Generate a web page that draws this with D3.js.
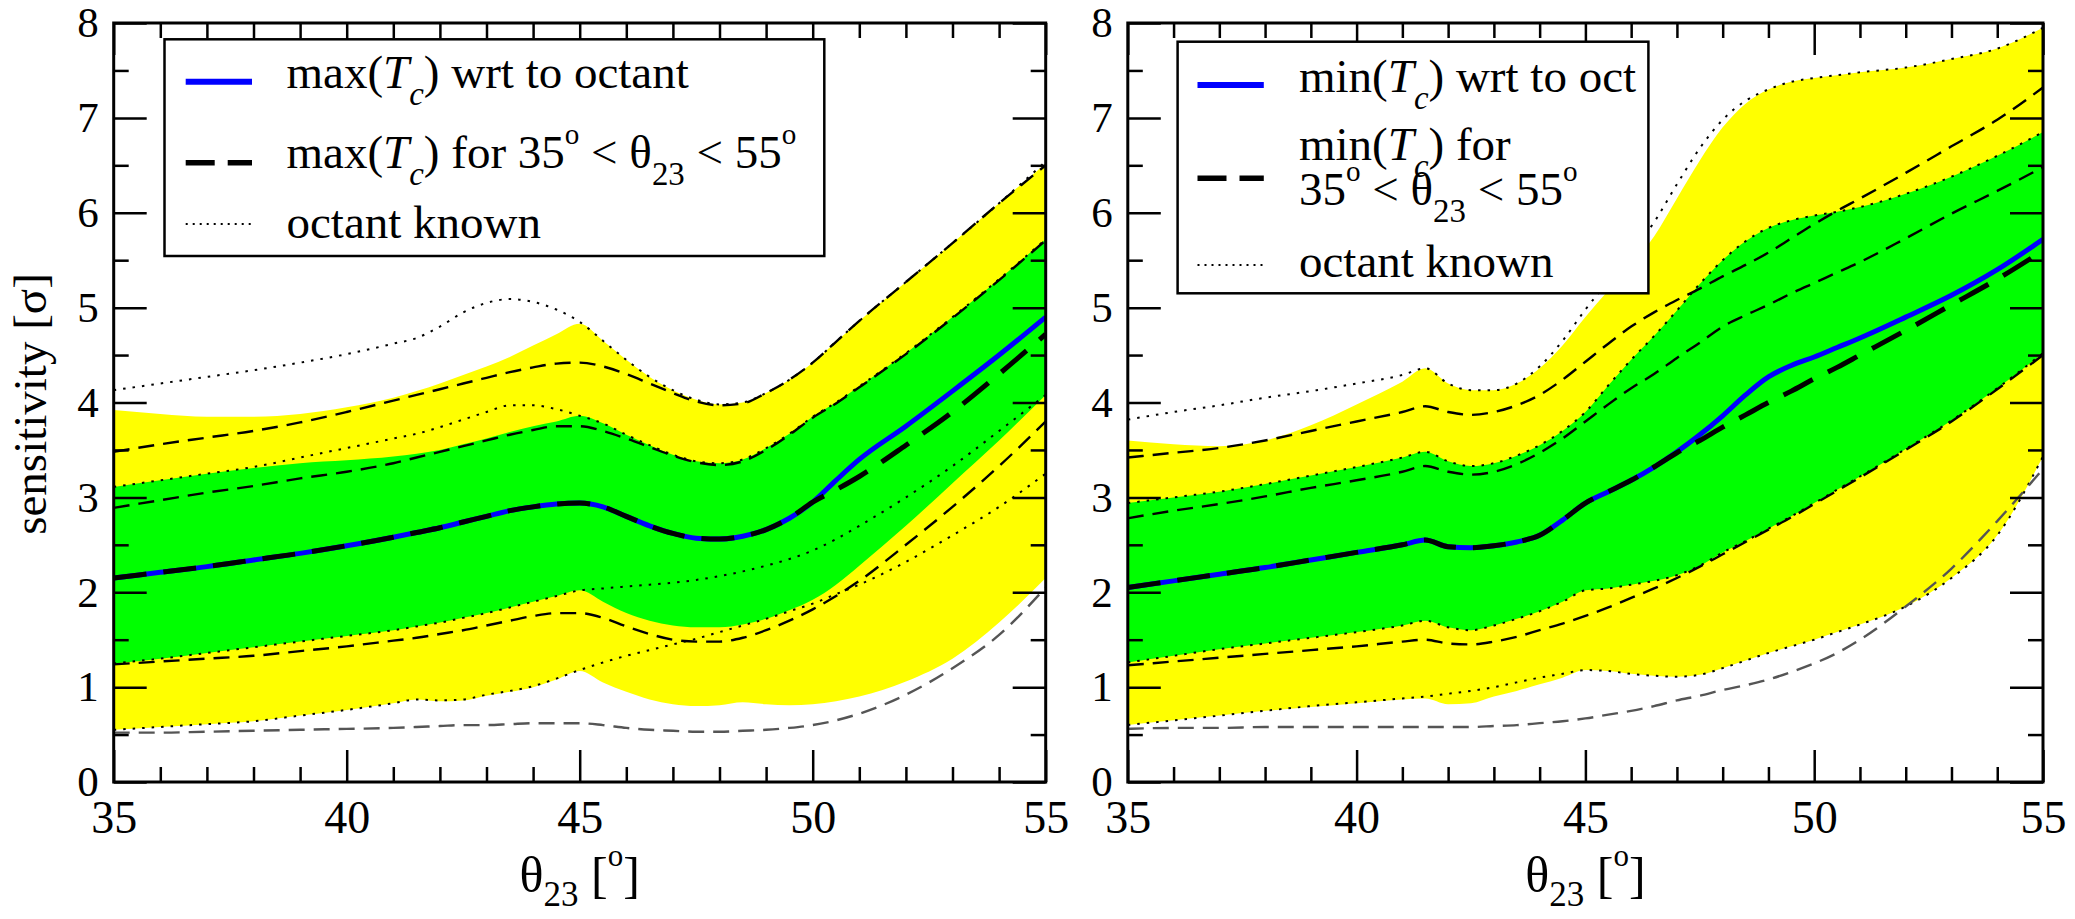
<!DOCTYPE html>
<html>
<head>
<meta charset="utf-8">
<script src="https://cdn.jsdelivr.net/npm/d3@7"></script>
<style>
  html, body { margin: 0; padding: 0; background: #fff; }
  svg { display: block; }
  text { font-family: "Liberation Serif", "DejaVu Serif", "Times New Roman", serif; fill: #000; white-space: pre; }
</style>
</head>
<body>
<svg id="chart" width="2075" height="919" font-family="Liberation Serif, DejaVu Serif, serif"></svg>
<script>
// ---- shared grid (theta_23 in degrees) ----
const theta = [35,36,37,38,39,40,41,41.5,42,42.5,43,43.5,44,44.5,45,45.5,46,46.5,47,47.5,48,48.5,49,49.5,50,50.5,51,52,53,54,55];
const xMajorTicks = [35, 40, 45, 50, 55];
const xMinorTicks = [36,37,38,39,41,42,43,44,46,47,48,49,51,52,53,54];
const yMajorTicks = [0,1,2,3,4,5,6,7,8];
const yMinorTicks = [0.5,1.5,2.5,3.5,4.5,5.5,6.5,7.5];

// ---- max(Tc) with respect to octant ----
const maxBand2Hi = [3.92,3.88,3.85,3.85,3.88,3.95,4.05,4.12,4.2,4.29,4.38,4.48,4.6,4.72,4.83,4.65,4.45,4.27,4.13,4.03,3.98,4.0,4.1,4.24,4.42,4.64,4.86,5.27,5.68,6.1,6.52];
const maxBand1Hi = [3.11,3.18,3.25,3.31,3.36,3.39,3.43,3.46,3.5,3.56,3.62,3.69,3.75,3.8,3.86,3.78,3.66,3.55,3.45,3.38,3.36,3.4,3.52,3.67,3.85,4.0,4.17,4.52,4.9,5.3,5.72];
const maxBand1Lo = [1.25,1.3,1.36,1.42,1.48,1.54,1.6,1.64,1.68,1.73,1.78,1.84,1.9,1.96,2.02,1.9,1.78,1.7,1.65,1.63,1.63,1.66,1.72,1.81,1.92,2.08,2.28,2.7,3.15,3.6,4.08];
const maxBand2Lo = [0.55,0.58,0.61,0.64,0.7,0.76,0.83,0.87,0.85,0.86,0.91,0.95,1.0,1.08,1.17,1.05,0.95,0.87,0.82,0.8,0.81,0.84,0.82,0.81,0.82,0.85,0.9,1.06,1.3,1.68,2.15];
const maxCentral = [2.15,2.21,2.27,2.34,2.41,2.49,2.58,2.63,2.68,2.74,2.8,2.86,2.9,2.93,2.94,2.9,2.8,2.7,2.62,2.57,2.56,2.59,2.66,2.78,2.95,3.18,3.4,3.75,4.12,4.5,4.9];
const maxRange = [2.15,2.21,2.27,2.34,2.41,2.49,2.58,2.63,2.68,2.74,2.8,2.86,2.9,2.93,2.94,2.9,2.8,2.7,2.62,2.57,2.56,2.59,2.66,2.78,2.95,3.08,3.22,3.55,3.9,4.3,4.72];
const maxRangeHi2 = [3.48,3.56,3.63,3.7,3.79,3.9,4.02,4.08,4.14,4.2,4.26,4.32,4.37,4.41,4.42,4.38,4.3,4.2,4.1,4.01,3.97,3.99,4.1,4.24,4.42,4.64,4.86,5.27,5.68,6.1,6.5];
const maxRangeHi1 = [2.89,2.97,3.05,3.12,3.2,3.27,3.36,3.42,3.48,3.54,3.6,3.66,3.71,3.75,3.75,3.7,3.62,3.53,3.44,3.37,3.34,3.38,3.5,3.66,3.84,3.99,4.16,4.51,4.89,5.29,5.71];
const maxRangeLo1 = [1.24,1.27,1.3,1.33,1.38,1.43,1.49,1.52,1.56,1.6,1.65,1.7,1.75,1.78,1.78,1.73,1.64,1.56,1.5,1.48,1.48,1.52,1.6,1.7,1.82,1.96,2.12,2.5,2.9,3.33,3.8];
const maxRangeLo2 = [0.52,0.52,0.53,0.54,0.55,0.56,0.57,0.58,0.59,0.6,0.6,0.61,0.62,0.62,0.62,0.6,0.57,0.55,0.54,0.53,0.53,0.54,0.55,0.57,0.6,0.65,0.72,0.92,1.2,1.55,2.05];
const maxKnownHi2 = [4.13,4.2,4.27,4.34,4.42,4.51,4.62,4.68,4.8,4.95,5.05,5.09,5.06,4.98,4.85,4.65,4.45,4.27,4.13,4.03,3.98,4.0,4.1,4.24,4.42,4.64,4.86,5.27,5.68,6.1,6.54];
const maxKnownHi1 = [3.11,3.18,3.25,3.32,3.42,3.52,3.62,3.67,3.74,3.82,3.9,3.97,3.97,3.93,3.86,3.78,3.66,3.55,3.45,3.38,3.36,3.4,3.52,3.67,3.85,4.0,4.17,4.52,4.9,5.3,5.72];
const maxKnownLo1 = [1.25,1.3,1.36,1.42,1.48,1.54,1.6,1.64,1.68,1.73,1.78,1.84,1.9,1.96,2.02,2.04,2.06,2.08,2.1,2.13,2.17,2.22,2.28,2.35,2.44,2.56,2.7,3.0,3.33,3.7,4.08];
const maxKnownLo2 = [0.55,0.58,0.61,0.64,0.7,0.76,0.83,0.87,0.86,0.87,0.92,0.96,1.01,1.09,1.18,1.26,1.33,1.39,1.45,1.51,1.58,1.65,1.72,1.8,1.88,1.98,2.08,2.32,2.6,2.9,3.25];

// ---- min(Tc) with respect to octant ----
const minBand2Hi = [3.6,3.56,3.54,3.6,3.76,3.98,4.22,4.36,4.2,4.13,4.13,4.2,4.36,4.6,4.9,5.18,5.45,5.75,6.15,6.55,6.9,7.15,7.3,7.38,7.42,7.45,7.48,7.53,7.62,7.73,7.95];
const minBand1Hi = [2.94,3.0,3.06,3.14,3.23,3.32,3.42,3.48,3.38,3.33,3.36,3.44,3.55,3.7,3.9,4.18,4.45,4.7,4.97,5.25,5.5,5.7,5.84,5.92,5.97,6.01,6.06,6.2,6.38,6.6,6.85];
const minBand1Lo = [1.26,1.33,1.4,1.46,1.52,1.58,1.65,1.7,1.63,1.6,1.65,1.72,1.8,1.9,2.02,2.04,2.08,2.12,2.18,2.28,2.42,2.54,2.67,2.8,2.94,3.08,3.22,3.51,3.81,4.15,4.52];
const minBand2Lo = [0.6,0.65,0.7,0.75,0.79,0.83,0.87,0.88,0.82,0.83,0.9,0.96,1.03,1.1,1.18,1.17,1.14,1.12,1.11,1.13,1.2,1.28,1.36,1.43,1.5,1.58,1.66,1.85,2.15,2.6,3.43];
const minCentral = [2.05,2.12,2.19,2.26,2.34,2.42,2.5,2.55,2.48,2.47,2.49,2.53,2.6,2.76,2.94,3.06,3.18,3.32,3.48,3.66,3.86,4.08,4.27,4.39,4.48,4.58,4.68,4.9,5.13,5.4,5.72];
const minRange = [2.05,2.12,2.19,2.26,2.34,2.42,2.5,2.55,2.48,2.47,2.49,2.53,2.6,2.76,2.94,3.06,3.18,3.32,3.47,3.6,3.74,3.87,4.0,4.12,4.25,4.37,4.5,4.76,5.03,5.3,5.6];
const minRangeHi2 = [3.42,3.47,3.52,3.6,3.7,3.8,3.9,3.96,3.9,3.87,3.9,3.97,4.08,4.24,4.43,4.62,4.8,4.95,5.08,5.2,5.33,5.45,5.58,5.73,5.88,6.02,6.15,6.42,6.7,6.98,7.32];
const minRangeHi1 = [2.78,2.86,2.93,3.01,3.1,3.18,3.27,3.33,3.27,3.24,3.27,3.35,3.47,3.62,3.8,3.98,4.15,4.3,4.47,4.63,4.8,4.92,5.03,5.15,5.26,5.37,5.48,5.73,5.99,6.23,6.48];
const minRangeLo1 = [1.23,1.27,1.31,1.35,1.39,1.43,1.48,1.5,1.46,1.45,1.48,1.53,1.6,1.67,1.75,1.84,1.94,2.04,2.15,2.27,2.4,2.53,2.66,2.79,2.93,3.07,3.21,3.5,3.8,4.14,4.5];
const minRangeLo2 = [0.56,0.57,0.57,0.58,0.58,0.58,0.58,0.58,0.58,0.58,0.59,0.6,0.62,0.64,0.67,0.71,0.75,0.8,0.86,0.91,0.97,1.02,1.08,1.16,1.25,1.36,1.5,1.85,2.25,2.75,3.3];
const minKnownHi2 = [3.82,3.9,3.97,4.05,4.12,4.2,4.29,4.36,4.2,4.13,4.13,4.2,4.38,4.65,4.98,5.28,5.58,5.9,6.3,6.68,6.98,7.18,7.3,7.38,7.42,7.45,7.48,7.53,7.62,7.73,7.95];
const minKnownHi1 = [2.94,3.0,3.06,3.14,3.23,3.32,3.42,3.48,3.38,3.33,3.36,3.44,3.55,3.7,3.9,4.18,4.45,4.7,4.97,5.25,5.5,5.7,5.84,5.92,5.97,6.01,6.06,6.2,6.38,6.6,6.85];
const minKnownLo1 = [1.26,1.33,1.4,1.46,1.52,1.58,1.65,1.7,1.63,1.6,1.65,1.72,1.8,1.9,2.02,2.04,2.08,2.12,2.18,2.28,2.42,2.54,2.67,2.8,2.94,3.08,3.22,3.51,3.81,4.15,4.52];
const minKnownLo2 = [0.6,0.65,0.7,0.75,0.8,0.84,0.88,0.9,0.93,0.96,1.0,1.05,1.1,1.14,1.18,1.17,1.14,1.12,1.11,1.13,1.2,1.28,1.36,1.43,1.5,1.58,1.66,1.85,2.15,2.6,3.43];

// ---- legend labels (segments: text, style) ----
const maxLegend = [
  [["max("], ["T", "it"], ["c", "itsub"], [") wrt to octant"]],
  [["max("], ["T", "it"], ["c", "itsub"], [") for 35"], ["o", "sup"], [" < θ"], ["23", "sub"], [" < 55"], ["o", "sup"]],
  [["octant known"]]
];
const minLegend = [
  [["min("], ["T", "it"], ["c", "itsub"], [") wrt to oct"]],
  [["min("], ["T", "it"], ["c", "itsub"], [") for"]],
  [["35"], ["o", "sup"], [" < θ"], ["23", "sub"], [" < 55"], ["o", "sup"]],
  [["octant known"]]
];
const xTitle = [["θ"], ["23", "sub"], [" ["], ["o", "sup"], ["]"]];
const yTitle = "sensitivity [σ]";

// ---- layout ----
const svg = d3.select("#chart");
svg.append("rect").attr("width", 2075).attr("height", 919).attr("fill", "#fff");

const SERIF = "Liberation Serif, DejaVu Serif, serif";
const TOP = 23, BOTTOM = 782;
const panels = [
  {
    id: "max", left: 113.7, right: 1045.7,
    band2: [maxBand2Lo, maxBand2Hi], band1: [maxBand1Lo, maxBand1Hi],
    known: [maxKnownHi2, maxKnownHi1, maxKnownLo1, maxKnownLo2],
    range: [maxRangeHi2, maxRangeHi1, maxRangeLo1],
    rangeLow: maxRangeLo2,
    central: maxCentral, rangeCentral: maxRange,
    legend: {
      box: [164.5, 39.3, 659.8, 216.7], sx: [185.7, 252], tx: 286.5,
      rows: [
        { kind: "solid", sy: 81.7, lines: [[maxLegend[0], 88.3]] },
        { kind: "dash", sy: 162.7, lines: [[maxLegend[1], 168.3]] },
        { kind: "dot", sy: 224, lines: [[maxLegend[2], 238.3]] }
      ]
    }
  },
  {
    id: "min", left: 1127.8, right: 2043,
    band2: [minBand2Lo, minBand2Hi], band1: [minBand1Lo, minBand1Hi],
    known: [minKnownHi2, minKnownHi1, minKnownLo1, minKnownLo2],
    range: [minRangeHi2, minRangeHi1, minRangeLo1],
    rangeLow: minRangeLo2,
    central: minCentral, rangeCentral: minRange,
    legend: {
      box: [1177.6, 41.7, 470.8, 251.6], sx: [1197.5, 1263.8], tx: 1299,
      rows: [
        { kind: "solid", sy: 85, lines: [[minLegend[0], 91.7]] },
        { kind: "dash", sy: 178.3, lines: [[minLegend[1], 160], [minLegend[2], 205]] },
        { kind: "dot", sy: 265, lines: [[minLegend[3], 276.7]] }
      ]
    }
  }
];

const STYLE = {
  yellow: "#ffff00", green: "#00ff00", blue: "#0000ff",
  dot: { w: 2, dash: "2.5,7" },
  thin: { w: 2.4, dash: "16,9" },
  thick: { w: 5, dash: "33,17" }
};

// rich text made of plain / italic / sub / superscript pieces
function richText(parent, x, y, segs, size, anchor, subShift) {
  const t = parent.append("text").attr("x", x).attr("y", y)
    .attr("font-size", size).attr("font-family", SERIF)
    .attr("text-anchor", anchor || "start");
  let shift = 0;
  segs.forEach(([s, kind]) => {
    let target = 0, fs = size, italic = false;
    if (kind === "it") italic = true;
    if (kind === "sub" || kind === "itsub") { target = (subShift || 0.36) * size; fs = 0.7 * size; italic = kind === "itsub"; }
    if (kind === "sup") { target = -0.52 * size; fs = 0.62 * size; }
    const ts = t.append("tspan").attr("dy", target - shift).attr("font-size", fs).text(s);
    if (italic) ts.attr("font-style", "italic");
    shift = target;
  });
  return t;
}

function drawPanel(p) {
  const x = d3.scaleLinear().domain([35, 55]).range([p.left, p.right]);
  const y = d3.scaleLinear().domain([0, 8]).range([BOTTOM, TOP]);
  const g = svg.append("g");

  const clipId = "clip-" + p.id;
  svg.append("clipPath").attr("id", clipId).append("rect")
    .attr("x", p.left).attr("y", TOP).attr("width", p.right - p.left).attr("height", BOTTOM - TOP);
  const plot = g.append("g").attr("clip-path", `url(#${clipId})`);

  const area = (lo, hi) => d3.area()
    .x((d, i) => x(theta[i])).y0((d, i) => y(lo[i])).y1((d, i) => y(hi[i]))
    .curve(d3.curveMonotoneX);
  const line = vals => d3.line()
    .x((d, i) => x(theta[i])).y((d, i) => y(vals[i]))
    .curve(d3.curveMonotoneX);

  plot.append("path").datum(theta).attr("d", area(p.band2[0], p.band2[1])).attr("fill", STYLE.yellow);
  plot.append("path").datum(theta).attr("d", area(p.band1[0], p.band1[1])).attr("fill", STYLE.green);

  // octant known (dotted)
  p.known.forEach(vals => {
    plot.append("path").datum(theta).attr("d", line(vals)).attr("fill", "none")
      .attr("stroke", "#000").attr("stroke-width", STYLE.dot.w).attr("stroke-dasharray", STYLE.dot.dash);
  });
  // 35° < θ23 < 55° bands (thin dashed)
  p.range.forEach(vals => {
    plot.append("path").datum(theta).attr("d", line(vals)).attr("fill", "none")
      .attr("stroke", "#000").attr("stroke-width", STYLE.thin.w).attr("stroke-dasharray", STYLE.thin.dash);
  });
  plot.append("path").datum(theta).attr("d", line(p.rangeLow)).attr("fill", "none")
    .attr("stroke", "#555").attr("stroke-width", STYLE.thin.w).attr("stroke-dasharray", STYLE.thin.dash);

  // central curves
  plot.append("path").datum(theta).attr("d", line(p.central)).attr("fill", "none")
    .attr("stroke", STYLE.blue).attr("stroke-width", 5);
  plot.append("path").datum(theta).attr("d", line(p.rangeCentral)).attr("fill", "none")
    .attr("stroke", "#000").attr("stroke-width", STYLE.thick.w).attr("stroke-dasharray", STYLE.thick.dash);

  // axes with inward ticks
  const axes = g.append("g");
  const styleAxis = sel => {
    sel.attr("font-family", SERIF);
    sel.select(".domain").remove();
    sel.selectAll(".tick line").attr("stroke", "#000").attr("stroke-width", 2.5);
  };
  axes.append("g").attr("transform", `translate(0,${BOTTOM})`)
    .call(d3.axisBottom(x).tickValues(xMajorTicks).tickSize(-32).tickPadding(18).tickFormat(d3.format("d")))
    .call(styleAxis)
    .call(s => s.selectAll("text").attr("font-size", 46).attr("font-family", SERIF).attr("fill", "#000"));
  axes.append("g").attr("transform", `translate(0,${BOTTOM})`)
    .call(d3.axisBottom(x).tickValues(xMinorTicks).tickSize(-15).tickFormat(""))
    .call(styleAxis);
  axes.append("g").attr("transform", `translate(0,${TOP})`)
    .call(d3.axisTop(x).tickValues(xMajorTicks).tickSize(-32).tickFormat(""))
    .call(styleAxis);
  axes.append("g").attr("transform", `translate(0,${TOP})`)
    .call(d3.axisTop(x).tickValues(xMinorTicks).tickSize(-15).tickFormat(""))
    .call(styleAxis);
  axes.append("g").attr("transform", `translate(${p.left},0)`)
    .call(d3.axisLeft(y).tickValues(yMajorTicks).tickSize(-33).tickPadding(15).tickFormat(d3.format("d")))
    .call(styleAxis)
    .call(s => s.selectAll("text").attr("font-size", 43).attr("font-family", SERIF).attr("fill", "#000"));
  axes.append("g").attr("transform", `translate(${p.left},0)`)
    .call(d3.axisLeft(y).tickValues(yMinorTicks).tickSize(-15).tickFormat(""))
    .call(styleAxis);
  axes.append("g").attr("transform", `translate(${p.right},0)`)
    .call(d3.axisRight(y).tickValues(yMajorTicks).tickSize(-33).tickFormat(""))
    .call(styleAxis);
  axes.append("g").attr("transform", `translate(${p.right},0)`)
    .call(d3.axisRight(y).tickValues(yMinorTicks).tickSize(-15).tickFormat(""))
    .call(styleAxis);

  g.append("rect").attr("x", p.left).attr("y", TOP)
    .attr("width", p.right - p.left).attr("height", BOTTOM - TOP)
    .attr("fill", "none").attr("stroke", "#000").attr("stroke-width", 3);

  // x axis title
  richText(g, (p.left + p.right) / 2, 892, xTitle, 50, "middle", 0.28);

  // legend
  const L = p.legend;
  const lg = g.append("g");
  lg.append("rect").attr("x", L.box[0]).attr("y", L.box[1]).attr("width", L.box[2]).attr("height", L.box[3])
    .attr("fill", "#fff").attr("stroke", "#000").attr("stroke-width", 2.5);
  L.rows.forEach(r => {
    const s = lg.append("line").attr("x1", L.sx[0]).attr("x2", L.sx[1]).attr("y1", r.sy).attr("y2", r.sy);
    if (r.kind === "solid") s.attr("stroke", STYLE.blue).attr("stroke-width", 6);
    if (r.kind === "dash") s.attr("stroke", "#000").attr("stroke-width", 5.5).attr("stroke-dasharray", "29,13");
    if (r.kind === "dot") s.attr("stroke", "#000").attr("stroke-width", 1.8).attr("stroke-dasharray", "2,5");
    r.lines.forEach(([segs, by]) => richText(lg, L.tx, by, segs, 47));
  });
}

panels.forEach(drawPanel);

// y axis title
svg.append("g").attr("transform", "translate(46,404) rotate(-90)")
  .append("text").attr("text-anchor", "middle").attr("font-size", 47)
  .attr("font-family", SERIF).text(yTitle);
</script>
</body>
</html>
